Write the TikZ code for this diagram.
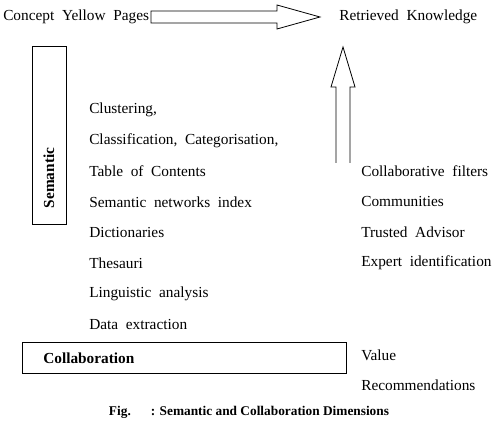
\documentclass[tikz,border=0pt]{standalone}
\usepackage{fontspec}
\setmainfont{Liberation Serif}
\usetikzlibrary{positioning}
\begin{document}
\begin{tikzpicture}
[x=0.75pt, y=-0.75pt, node distance=23pt, font=\fontsize{11.5}{13}\selectfont]
\tikzstyle{item}=[anchor=west, inner sep=0pt]
\tikzstyle{dimbox}=[draw, semithick, inner sep=0pt]
\tikzstyle{bigarrow}=[draw, semithick, fill=white, line join=miter]
\useasboundingbox (0,0) rectangle (499,423);

\node[item]	(CYP)	at (3,17)	{Concept\ \ Yellow\ \ Pages};
\node[item]	(RK)	at (339,17)	{Retrieved\ \ Knowledge};

% semantic side
\node[dimbox, minimum width=25.5pt, minimum height=133pt]	(SEM)	at (49,135.5) {};
\node[rotate=90, font=\fontsize{11.5}{13}\selectfont\bfseries]	(SEMt)	at (49,178) {Semantic};

\node[item]	(S1)	at (89,110)	{Clustering,};
\node[item]	(S2)	[below=of S1.west, anchor=west]	{Classification,\ \ Categorisation,};
\node[item]	(S3)	[below=of S2.west, anchor=west]	{Table\ \ of\ \ Contents};
\node[item]	(S4)	[below=of S3.west, anchor=west]	{Semantic\ \ networks\ \ index};
\node[item]	(S5)	[below=of S4.west, anchor=west]	{Dictionaries};
\node[item]	(S6)	[below=of S5.west, anchor=west]	{Thesauri};
\node[item]	(S7)	[below=of S6.west, anchor=west]	{Linguistic\ \ analysis};
\node[item]	(S8)	[below=of S7.west, anchor=west]	{Data\ \ extraction};

% collaboration side
\node[item]	(C1)	at (361,171)	{Collaborative\ \ filters};
\node[item]	(C2)	[below=of C1.west, anchor=west]	{Communities};
\node[item]	(C3)	[below=of C2.west, anchor=west]	{Trusted\ \ Advisor};
\node[item]	(C4)	[below=of C3.west, anchor=west]	{Expert\ \ identification};

\node[dimbox, minimum width=243pt, minimum height=23.25pt]	(COL)	at (184,357.5) {};
\node[item, font=\fontsize{11.5}{13}\selectfont\bfseries]	(COLt)	at (43,358) {Collaboration};
\node[item]	(V1)	at (361,355)	{Value};
\node[item]	(V2)	[below=of V1.west, anchor=west]	{Recommendations};

% arrows
\draw[bigarrow] (151,11)--(277,11)--(277,5)--(320,17)--(277,29)--(277,23)--(151,23)--cycle;
\draw[bigarrow] (336,163)--(336,87)--(331,87)--(343,47)--(355,87)--(350,87)--(350,163);

\node[font=\fontsize{10}{12}\selectfont\bfseries]	(FIG)	at (249,412)	{Fig.\hspace{15pt}: Semantic and Collaboration Dimensions};
\end{tikzpicture}
\end{document}
